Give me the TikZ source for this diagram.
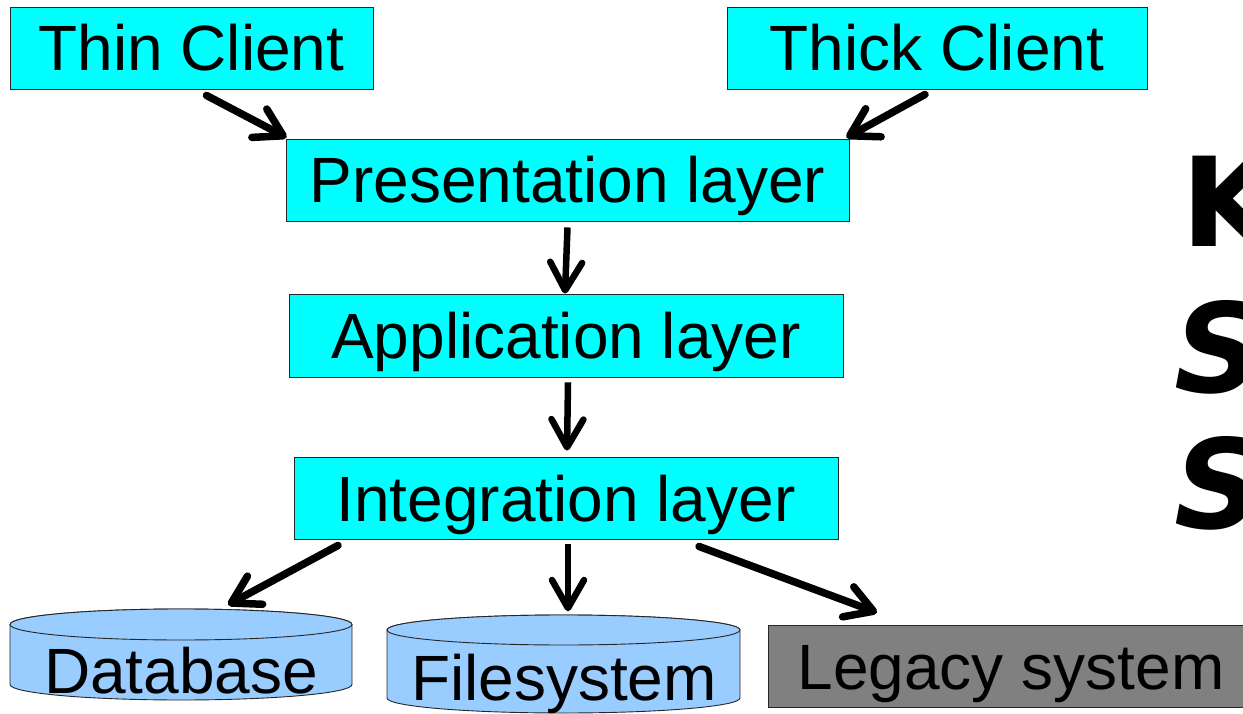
\documentclass[tikz,border=0pt]{standalone}
\usepackage{fontspec}
\setmainfont{Liberation Sans}
\newfontfamily\kssfont{DejaVu Sans}
\usetikzlibrary{arrows.meta,calc}
\definecolor{cyanbox}{HTML}{00FFFF}
\definecolor{cylblue}{HTML}{99CCFF}
\definecolor{legacygray}{HTML}{808080}
\begin{document}
\begin{tikzpicture}[x=1pt,y=1pt,
 lbl/.style={font=\fontsize{64}{64}\selectfont, inner sep=0pt, text height=46pt, text depth=0pt},
 box/.style={lbl, draw=black!85, line width=0.9pt, fill=cyanbox},
 cyl/.style={draw=black!85, line width=0.9pt, fill=cylblue},
 link/.style={line width=7.5pt, line cap=round, -{Straight Barb[length=27pt,width=32pt,round]}},
 vlink/.style={line width=6.5pt, -{Straight Barb[length=28pt,width=32pt,round]}},
 kss/.style={font=\kssfont\bfseries\fontsize{124}{124}\selectfont, inner sep=0pt, anchor=base west},
 kssit/.style={kss, font=\kssfont\bfseries\itshape\fontsize{124}{124}\selectfont}]
\useasboundingbox (0,0) rectangle (1243,-714);

% boxes
\node[box, minimum width=363pt, minimum height=82pt] (thin) at (191.5,-48) {Thin Client};
\node[box, minimum width=420pt, minimum height=82pt] (thick) at (937,-48) {Thick Client};
\node[box, minimum width=563pt, minimum height=82pt] (pres) at (567.5,-180) {Presentation layer};
\node[box, minimum width=554pt, minimum height=83pt] (app) at (566,-335.5) {Application layer};
\node[box, minimum width=544pt, minimum height=82pt] (int) at (566,-498) {Integration layer};

% cylinders
\draw[cyl] (10,-624.5) -- (10,-684.5) arc[start angle=180,end angle=360,x radius=171,y radius=15.5] -- (352,-624.5) arc[start angle=0,end angle=180,x radius=171,y radius=15.5] -- cycle;
\draw[cyl] (181,-624.5) ellipse [x radius=171, y radius=15.5];
\node[lbl] (db) at (181,-670) {Database};

\draw[cyl] (387,-630) -- (387,-698) arc[start angle=180,end angle=360,x radius=176.5,y radius=15] -- (740,-630) arc[start angle=0,end angle=180,x radius=176.5,y radius=15] -- cycle;
\draw[cyl] (563.5,-630) ellipse [x radius=176.5, y radius=15];
\node[lbl] (fs) at (564,-677.5) {Filesystem};

\node[lbl, draw=black!85, line width=0.9pt, fill=legacygray, minimum width=486pt, minimum height=82pt] (legacy) at (1011,-666) {Legacy system};

% connectors
\draw[link] ($(thin.south)+(15,-6)$) -- ($(pres.north west)+(1,1)$);
\draw[link] ($(thick.south)+(-12,-5)$) -- ($(pres.north east)+(-3,1)$);
\draw[vlink] ($(pres.south)+(0,-6)$) -- ($(app.north)+(-1,0)$);
\draw[vlink] ($(app.south)+(2,-5)$) -- ($(int.north)+(1,6)$);
\draw[link] ($(int.south)+(-228,-6)$) -- ($(db.north)+(47,42)$);
\draw[vlink] ($(int.south)+(2,-5)$) -- ($(fs.north)+(4,43)$);
\draw[link] ($(int.south)+(133,-7)$) -- ($(legacy.north)+(-134,12)$);

% large letters at right
\node[kss] (k1) at (1181,-247) {K};
\node[kssit] (s1) at (1174,-392) {S};
\node[kssit] (s2) at (1174,-528) {S};
\end{tikzpicture}
\end{document}
